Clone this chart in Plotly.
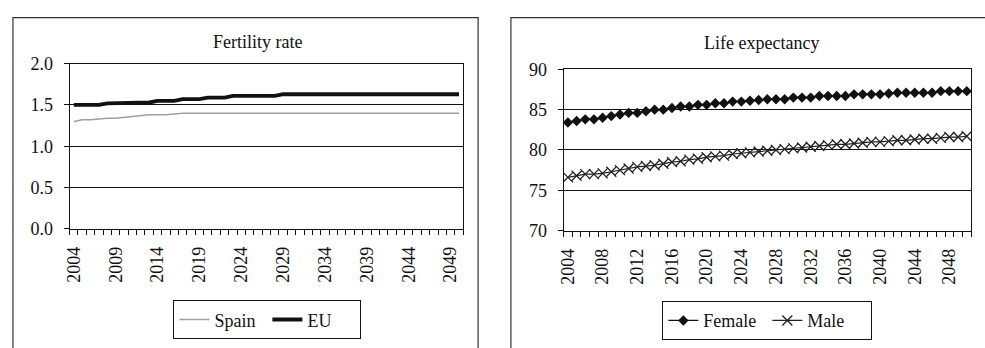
import plotly.graph_objects as go

# Projection years
years = list(range(2004, 2051))

# Fertility rate (children per woman)
spain_fertility = [1.30, 1.32, 1.32, 1.33, 1.34, 1.34, 1.35, 1.36, 1.37, 1.38,
                   1.38, 1.38, 1.39] + [1.40] * 34
eu_fertility = [1.50] * 4 + [1.52] * 3 + [1.53] * 3 + [1.55] * 3 + [1.57] * 3 \
    + [1.59] * 3 + [1.61] * 6 + [1.63] * 22

# Life expectancy at birth (years)
female_le = [83.4, 83.6, 83.8, 83.8, 84.0, 84.2, 84.4, 84.6, 84.6, 84.8,
             85.0, 85.0, 85.2, 85.4, 85.4, 85.6, 85.6, 85.8, 85.8, 86.0,
             86.0, 86.1, 86.2, 86.3, 86.3, 86.3, 86.5, 86.5, 86.5, 86.7,
             86.7, 86.7, 86.7, 86.9, 86.9, 86.9, 86.9, 87.0, 87.1, 87.1,
             87.1, 87.1, 87.1, 87.3, 87.3, 87.3, 87.3]
male_le = [76.6, 76.8, 77.0, 77.0, 77.1, 77.3, 77.5, 77.7, 77.9, 78.0,
           78.1, 78.3, 78.5, 78.6, 78.8, 78.9, 79.1, 79.2, 79.3, 79.5,
           79.6, 79.7, 79.8, 79.9, 80.0, 80.1, 80.2, 80.3, 80.4, 80.5,
           80.6, 80.7, 80.7, 80.8, 80.9, 81.0, 81.0, 81.1, 81.2, 81.2,
           81.3, 81.4, 81.4, 81.5, 81.6, 81.6, 81.7]

fert_ticks = years[::5]
life_ticks = years[::4]
fert_yticks = [0.0, 0.5, 1.0, 1.5, 2.0]
life_yticks = [70, 75, 80, 85, 90]

W, H = 985, 348
FONT = "Liberation Serif, Times New Roman, serif"
INK = "#111111"


def px(x):
    return x / W


def py(y):
    return 1 - y / H


fig = go.Figure()

fig.add_trace(go.Scatter(x=years, y=spain_fertility, name="Spain", mode="lines",
                         line=dict(color="#a0a0a0", width=1.5),
                         xaxis="x", yaxis="y", legend="legend"))
fig.add_trace(go.Scatter(x=years, y=eu_fertility, name="EU", mode="lines",
                         line=dict(color=INK, width=3.8),
                         xaxis="x", yaxis="y", legend="legend"))
fig.add_trace(go.Scatter(x=years, y=female_le, name="Female", mode="lines+markers",
                         line=dict(color=INK, width=1.2),
                         marker=dict(symbol="diamond", size=8, color=INK),
                         xaxis="x2", yaxis="y2", legend="legend2"))
fig.add_trace(go.Scatter(x=years, y=male_le, name="Male", mode="lines+markers",
                         line=dict(color="#222222", width=1.2),
                         marker=dict(symbol="x-thin-open", size=10,
                                     line=dict(color=INK, width=1.3)),
                         xaxis="x2", yaxis="y2", legend="legend2"))


def xaxis_cfg(domain, ticks, anchor):
    return dict(
        domain=domain, anchor=anchor, range=[2003.5, 2050.5],
        tickmode="array", tickvals=ticks, ticktext=[str(t) for t in ticks],
        tickangle=-90, ticks="", showgrid=False, zeroline=False,
        showline=True, linecolor=INK, linewidth=1, mirror=True,
        ticklabelstandoff=10,
        tickfont=dict(family=FONT, size=18, color=INK),
        minor=dict(tick0=2003.5, dtick=1, ticks="outside", ticklen=5,
                   tickcolor=INK, tickwidth=1, showgrid=False),
    )


def yaxis_cfg(domain, rng, ticks, fmt, anchor):
    return dict(
        domain=domain, anchor=anchor, range=rng,
        tickmode="array", tickvals=ticks,
        ticktext=[fmt.format(t) for t in ticks],
        ticks="outside", ticklen=5, tickcolor=INK,
        ticklabelstandoff=7,
        showgrid=True, gridcolor=INK, gridwidth=1, zeroline=False,
        showline=True, linecolor=INK, linewidth=1, mirror=True,
        tickfont=dict(family=FONT, size=18, color=INK),
    )


legend_common = dict(orientation="h", xanchor="center", yanchor="top",
                     bordercolor=INK, borderwidth=1, bgcolor="white",
                     font=dict(family=FONT, size=18, color=INK),
                     itemwidth=30, tracegroupgap=0, entrywidthmode="pixels")

fig.update_layout(
    width=W, height=H,
    margin=dict(l=0, r=0, t=0, b=0),
    paper_bgcolor="white", plot_bgcolor="white",
    font=dict(family=FONT, size=18, color=INK),
    xaxis=xaxis_cfg([px(64), px(460)], fert_ticks, "y"),
    yaxis=yaxis_cfg([py(232), py(57)], [0, 2], fert_yticks, "{:.1f}", "x"),
    xaxis2=xaxis_cfg([px(561), px(971)], life_ticks, "y2"),
    yaxis2=yaxis_cfg([py(234), py(63)], [70, 90], life_yticks, "{:d}", "x2"),
    legend=dict(x=px(263), y=py(308), entrywidth=48, **legend_common),
    legend2=dict(x=px(766), y=py(309), entrywidth=59, **legend_common),
    showlegend=True,
)

# Chart titles
fig.add_annotation(text="Fertility rate", x=px(253), y=py(34), xref="paper",
                   yref="paper", showarrow=False, xanchor="center", yanchor="middle",
                   font=dict(family=FONT, size=18, color=INK))
fig.add_annotation(text="Life expectancy", x=px(760), y=py(35), xref="paper",
                   yref="paper", showarrow=False, xanchor="center", yanchor="middle",
                   font=dict(family=FONT, size=18, color=INK))

# Chart-area frames around each panel
fig.add_shape(type="rect", xref="paper", yref="paper",
              x0=px(7), x1=px(475), y0=py(360), y1=py(8),
              line=dict(color="#333333", width=1.2), layer="below")
fig.add_shape(type="rect", xref="paper", yref="paper",
              x0=px(508), x1=px(995), y0=py(360), y1=py(8),
              line=dict(color="#333333", width=1.2), layer="below")

fig.write_html("out.html")
